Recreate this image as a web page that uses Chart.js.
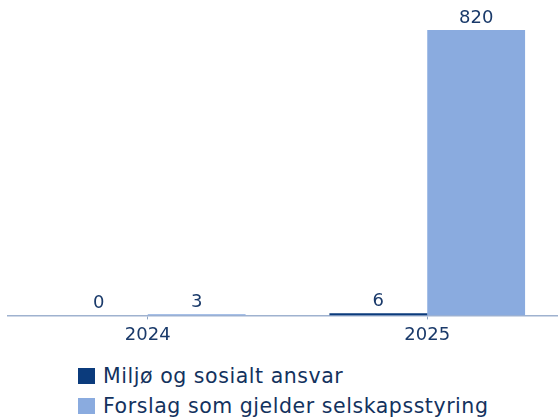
<!DOCTYPE html>
<html>
<head>
<meta charset="utf-8">
<script src="https://cdn.jsdelivr.net/npm/chart.js@4"></script>
<style>
  html, body { margin: 0; padding: 0; background: #fff; overflow: hidden; width: 558px; height: 418px; }
  #wrap { position: absolute; left: 0; top: 0; width: 567px; height: 351px; }
  #legend { position: absolute; left: 78px; top: 361px; font-family: "DejaVu Sans", sans-serif; font-size: 20.5px; letter-spacing: 0.55px; color: #13325e; }
  #legend div { height: 30px; line-height: 30px; white-space: nowrap; }
  #legend span.box { display: inline-block; width: 17px; height: 16px; margin-right: 8px; vertical-align: -1px; }
</style>
</head>
<body>
<div id="wrap"><canvas id="myChart"></canvas></div>
<div id="legend"></div>
<script>
let years = ['2024', '2025'];
let miljo = [0, 6];
let styring = [3, 820];
let labels = ['Miljø og sosialt ansvar', 'Forslag som gjelder selskapsstyring'];
let colors = ['#0b3b7c', '#8aabdf'];

const textColor = '#1a3a6a';
const font = '"DejaVu Sans", sans-serif';

// write the value above each bar
const valueLabels = {
    id: 'valueLabels',
    afterDatasetsDraw(chart) {
        const ctx = chart.ctx;
        ctx.save();
        ctx.fillStyle = textColor;
        ctx.font = '18px ' + font;
        ctx.textAlign = 'center';
        ctx.textBaseline = 'bottom';
        chart.data.datasets.forEach((ds, i) => {
            chart.getDatasetMeta(i).data.forEach((bar, j) => {
                ctx.fillText(ds.data[j], bar.x, bar.y - 3);
            });
        });
        ctx.restore();
    }
};

function drawGraph(){
    const ctx = document.querySelector('#myChart').getContext('2d');
    const myChart = new Chart(ctx, {
        type: 'bar',
        data: {
            labels: years,
            datasets: [{
                label: labels[0],
                data: miljo,
                backgroundColor: colors[0],
                borderWidth: 0
            },{
                label: labels[1],
                data: styring,
                backgroundColor: colors[1],
                borderWidth: 0
            }]
        },
        options: {
            responsive: true,
            maintainAspectRatio: false,
            animation: false,
            layout: { padding: { top: 30, left: 8, right: 0, bottom: 0 } },
            plugins: {
                legend: { display: false },
                tooltip: { enabled: false }
            },
            datasets: {
                bar: { categoryPercentage: 0.7, barPercentage: 1 }
            },
            scales: {
                x: {
                    grid: { offset: false, drawOnChartArea: false, tickLength: 4, color: '#8fa6c6' },
                    border: { color: '#9fb2cf', width: 1.5 },
                    ticks: { color: textColor, font: { family: font, size: 18 }, padding: 5 }
                },
                y: {
                    display: false,
                    beginAtZero: true,
                    max: 820
                }
            }
        },
        plugins: [valueLabels]
    });
}

drawGraph();

let legend = document.querySelector('#legend');
labels.forEach((l, i) => {
    let row = document.createElement('div');
    row.innerHTML = '<span class="box" style="background:' + colors[i] + '"></span>' + l;
    legend.appendChild(row);
});
</script>
</body>
</html>
